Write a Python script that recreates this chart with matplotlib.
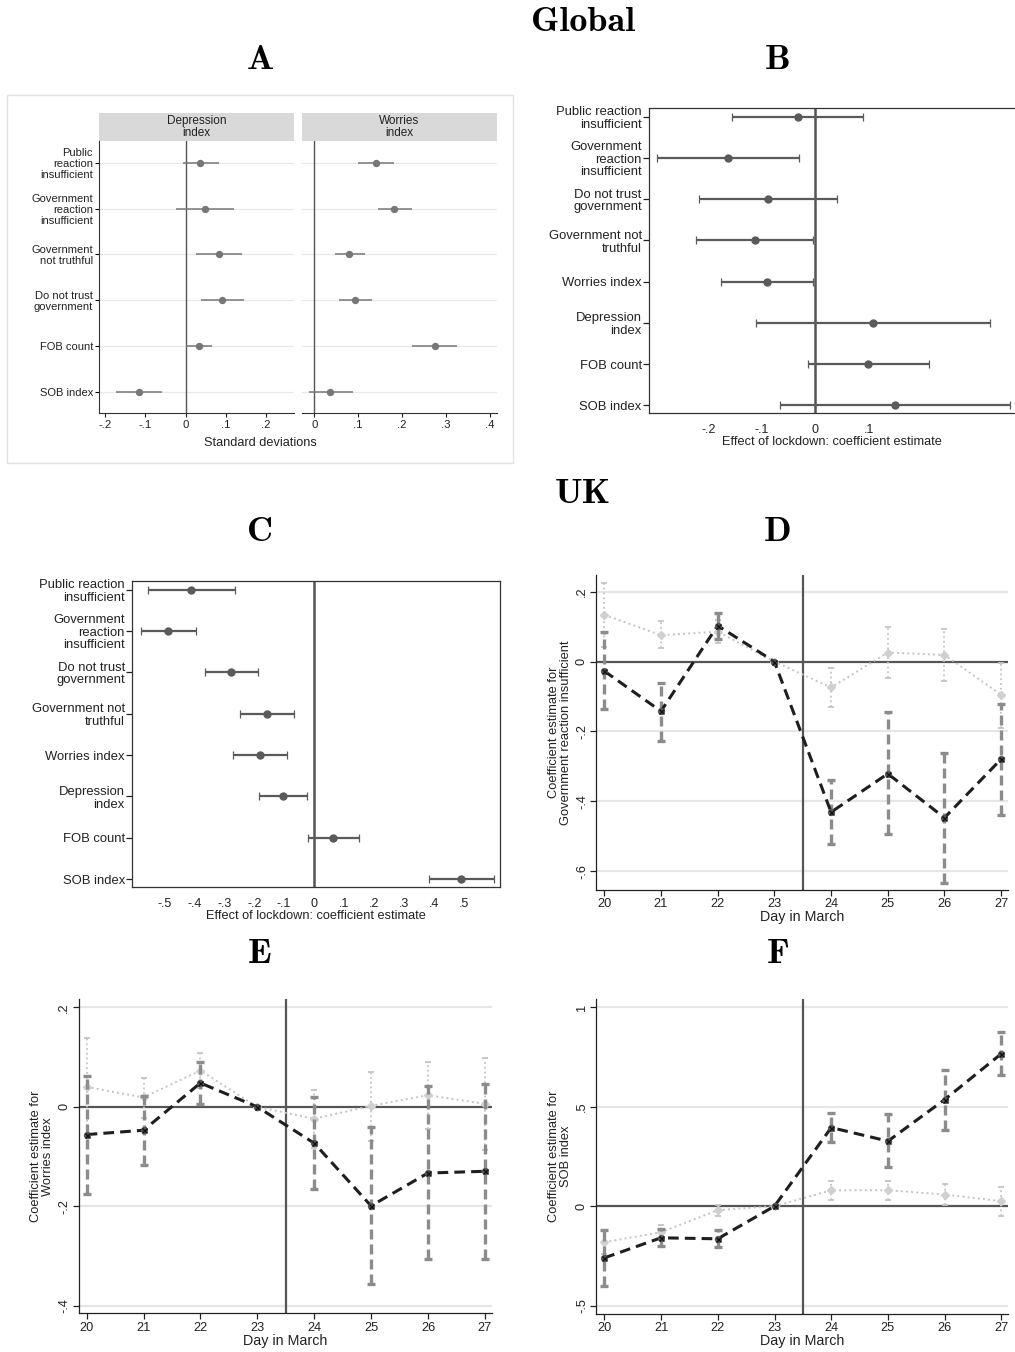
import matplotlib
matplotlib.use("Agg")
import matplotlib.pyplot as plt
from matplotlib.patches import Rectangle
from matplotlib.ticker import FuncFormatter
import numpy as np

plt.rcParams['font.family'] = ['Liberation Sans', 'DejaVu Sans']

## DATA ##

# panel A: global, standardised effects
a_labels = ["Public\nreaction\ninsufficient", "Government\nreaction\ninsufficient",
            "Government\nnot truthful", "Do not trust\ngovernment", "FOB count", "SOB index"]
a_dep = [0.036, 0.048, 0.0825, 0.091, 0.034, -0.116]
a_dep_lo = [-0.0075, -0.025, 0.025, 0.038, 0.0, -0.1725]
a_dep_hi = [0.0825, 0.12, 0.14, 0.145, 0.067, -0.0575]
a_wor = [0.141, 0.183, 0.080, 0.0935, 0.2745, 0.037]
a_wor_lo = [0.0996, 0.145, 0.047, 0.056, 0.2236, -0.012]
a_wor_hi = [0.181, 0.223, 0.116, 0.131, 0.3255, 0.0875]

# panels B and C: effect of lockdown
bc_labels = ["Public reaction\ninsufficient", "Government\nreaction\ninsufficient",
             "Do not trust\ngovernment", "Government not\ntruthful", "Worries index",
             "Depression\nindex", "FOB count", "SOB index"]
b_est = [-0.033, -0.164, -0.089, -0.114, -0.090, 0.108, 0.099, 0.150]
b_lo = [-0.156, -0.2975, -0.219, -0.223, -0.176, -0.111, -0.014, -0.066]
b_hi = [0.090, -0.031, 0.041, -0.004, -0.004, 0.3275, 0.2125, 0.365]

c_est = [-0.410, -0.488, -0.276, -0.157, -0.180, -0.105, 0.0646, 0.492]
c_lo = [-0.5546, -0.579, -0.365, -0.248, -0.271, -0.185, -0.021, 0.384]
c_hi = [-0.263, -0.396, -0.186, -0.066, -0.090, -0.0245, 0.151, 0.600]

# panels D, E, F: event study by day in March (23 = reference day)
days = [20, 21, 22, 23, 24, 25, 26, 27]

d_dark = [-0.027, -0.142, 0.103, 0.0, -0.431, -0.321, -0.447, -0.279]
d_dark_hi = [0.086, -0.062, 0.139, 0.0, -0.340, -0.1435, -0.261, -0.1215]
d_dark_lo = [-0.137, -0.226, 0.065, 0.0, -0.522, -0.495, -0.633, -0.439]
d_light = [0.134, 0.0756, 0.086, 0.0, -0.074, 0.026, 0.019, -0.095]
d_light_hi = [0.225, 0.115, 0.12, 0.0, -0.019, 0.098, 0.094, -0.003]
d_light_lo = [0.043, 0.038, 0.053, 0.0, -0.129, -0.046, -0.055, -0.189]

e_dark = [-0.0557, -0.047, 0.048, 0.0, -0.073, -0.199, -0.133, -0.1295]
e_dark_hi = [0.063, 0.0228, 0.0906, 0.0, 0.020, -0.040, 0.0416, 0.045]
e_dark_lo = [-0.1745, -0.116, 0.0067, 0.0, -0.166, -0.357, -0.306, -0.305]
e_light = [0.040, 0.019, 0.073, 0.0, -0.024, 0.002, 0.0235, 0.006]
e_light_hi = [0.139, 0.059, 0.109, 0.0, 0.0336, 0.070, 0.0906, 0.0987]
e_light_lo = [-0.058, -0.022, 0.0376, 0.0, -0.082, -0.068, -0.045, -0.087]

f_dark = [-0.260, -0.159, -0.164, 0.0, 0.395, 0.327, 0.536, 0.767]
f_dark_hi = [-0.121, -0.117, -0.121, 0.0, 0.466, 0.461, 0.682, 0.873]
f_dark_lo = [-0.399, -0.201, -0.206, 0.0, 0.322, 0.196, 0.384, 0.658]
f_light = [-0.181, -0.131, -0.020, 0.0, 0.080, 0.080, 0.0586, 0.025]
f_light_hi = [-0.125, -0.097, 0.008, 0.0, 0.126, 0.129, 0.109, 0.097]
f_light_lo = [-0.240, -0.164, -0.050, 0.0, 0.0335, 0.0335, 0.008, -0.050]


def stata_fmt(v, pos=None):
    "stata style tick labels: .2 instead of 0.2"
    if abs(v) < 1e-9:
        return "0"
    s = "%g" % round(v, 6)
    return s.replace("0.", ".", 1)


fig = plt.figure(figsize=(10.15, 13.52), dpi=100)

# headings
head_font = dict(family=['cmb10', 'DejaVu Serif'], fontsize=26, ha='center', va='center')
fig.text(0.5744, 0.9837, "Global", **head_font)
fig.text(0.5744, 0.6339, "UK", **head_font)
for lab, x, y in [("A", 0.2562, 0.9556), ("B", 0.7665, 0.9556),
                  ("C", 0.2562, 0.6065), ("D", 0.7665, 0.6065),
                  ("E", 0.2562, 0.2937), ("F", 0.7665, 0.2937)]:
    fig.text(x, y, lab, **head_font)

## PANEL A ##
fig.patches.append(Rectangle((0.0069, 0.6575), 0.4985, 0.2722, transform=fig.transFigure,
                             facecolor='none', edgecolor='#e2e2e2', lw=1))
axA1 = fig.add_axes([0.0972, 0.6945, 0.1924, 0.2012])
axA2 = fig.add_axes([0.2975, 0.6945, 0.1921, 0.2012])
ypos = np.arange(1, len(a_labels) + 1)
for ax, est, lo, hi, xlim, xt, title in [
        (axA1, a_dep, a_dep_lo, a_dep_hi, (-0.2165, 0.27), [-0.2, -0.1, 0, 0.1, 0.2], "Depression\nindex"),
        (axA2, a_wor, a_wor_lo, a_wor_hi, (-0.028, 0.4167), [0, 0.1, 0.2, 0.3, 0.4], "Worries\nindex")]:
    for y in ypos:
        ax.axhline(y, color='#e8e8e8', lw=0.9, zorder=0)
    ax.axvline(0, color='#555555', lw=1.0, zorder=1)
    ax.hlines(ypos, lo, hi, color='#777777', lw=1.1, zorder=2)
    ax.plot(est, ypos, 'o', color='#777777', markersize=4.3, zorder=3)
    ax.set_xlim(*xlim)
    ax.set_ylim(6.47, 0.52)
    ax.set_xticks(xt)
    ax.xaxis.set_major_formatter(FuncFormatter(stata_fmt))
    ax.tick_params(axis='x', labelsize=8.2, length=3, width=0.8, colors='#222222', pad=2)
    for s in ['top', 'right']:
        ax.spines[s].set_visible(False)
    ax.spines['bottom'].set_color('#333333')
    ax.add_patch(Rectangle((0, 1.0), 1, 0.103, transform=ax.transAxes, clip_on=False,
                           facecolor='#d9d9d9', edgecolor='none'))
    ax.text(0.5, 1.0515, title, transform=ax.transAxes, ha='center', va='center',
            fontsize=8.5, linespacing=0.95, color='#222222')

axA1.set_yticks(ypos)
axA1.set_yticklabels(a_labels, fontsize=8.0, linespacing=1.12, color='#222222')
axA1.tick_params(axis='y', length=3, width=0.8, pad=1)
axA1.spines['left'].set_color('#333333')
axA2.spines['left'].set_visible(False)
axA2.set_yticks([])
fig.text(0.2562, 1 - 443 / 1352, "Standard deviations", ha='center', va='center', fontsize=9.2,
         color='#222222')

## PANELS B and C ##
def coefplot(ax, est, lo, hi, xlim, xt, box):
    ypos = np.arange(1, len(est) + 1)
    est = np.array(est)
    err = [est - np.array(lo), np.array(hi) - est]
    ax.axvline(0, color='#555555', lw=1.8, zorder=1)
    ax.errorbar(est, ypos, xerr=err, fmt='o', color='#5a5a5a', ecolor='#5a5a5a',
                elinewidth=1.6, capsize=3, capthick=0.9, markersize=5, zorder=3)
    ax.set_xlim(*xlim)
    ax.set_ylim(len(est) + 0.18, 0.8)
    ax.set_yticks(ypos)
    ax.set_yticklabels(bc_labels, fontsize=9.4, linespacing=1.08, color='#222222')
    ax.set_xticks(xt)
    ax.xaxis.set_major_formatter(FuncFormatter(stata_fmt))
    ax.tick_params(axis='x', labelsize=9.0, length=0, pad=8, colors='#222222')
    ax.tick_params(axis='y', length=4, width=0.9, pad=1, colors='#222222')
    for s in ax.spines.values():
        s.set_color('#333333')
        s.set_linewidth(0.9)
    if not box:
        ax.spines['right'].set_visible(False)
    ax.set_xlabel("Effect of lockdown: coefficient estimate", fontsize=9.2, labelpad=0,
                  color='#222222')

axB = fig.add_axes([0.6391, 0.6947, 0.3609, 0.2251])
coefplot(axB, b_est, b_lo, b_hi, (-0.3126, 0.3747), [-0.2, -0.1, 0, 0.1], box=False)

axC = fig.add_axes([0.1298, 0.3442, 0.3629, 0.2259])
coefplot(axC, c_est, c_lo, c_hi, (-0.609, 0.621),
         [-0.5, -0.4, -0.3, -0.2, -0.1, 0, 0.1, 0.2, 0.3, 0.4, 0.5], box=True)

## PANELS D, E, F ##
def eventplot(ax, dark, dlo, dhi, light, llo, lhi, ylim, yt, ylabel):
    x = np.array(days)
    for y in yt:
        if abs(y) > 1e-9:
            ax.axhline(y, color='#e6e6e6', lw=1.6, zorder=0)
    ax.axhline(0, color='#555555', lw=1.6, zorder=1)
    ax.axvline(23.5, color='#555555', lw=1.6, zorder=1)
    mask = x != 23
    # light series (dotted)
    ax.vlines(x[mask], np.array(llo)[mask], np.array(lhi)[mask], colors='#c4c4c4',
              linestyles=':', lw=1.3, zorder=2)
    ax.plot(x[mask], np.array(llo)[mask], '_', color='#c4c4c4', markersize=5, mew=1.3, zorder=2)
    ax.plot(x[mask], np.array(lhi)[mask], '_', color='#c4c4c4', markersize=5, mew=1.3, zorder=2)
    ax.plot(x, light, ':', color='#c4c4c4', lw=1.4, zorder=2)
    ax.plot(x, light, 'D', color='#d0d0d0', markersize=4.5, zorder=3)
    # dark series (dashed)
    ax.vlines(x[mask], np.array(dlo)[mask], np.array(dhi)[mask], colors='#8c8c8c',
              linestyles=(0, (3, 1.5)), lw=2.4, zorder=4)
    ax.plot(x[mask], np.array(dlo)[mask], '_', color='#8c8c8c', markersize=6, mew=2.4, zorder=4)
    ax.plot(x[mask], np.array(dhi)[mask], '_', color='#8c8c8c', markersize=6, mew=2.4, zorder=4)
    ax.plot(x, dark, '--', color='#1e1e1e', lw=2.2, dashes=(3.5, 2), zorder=5)
    ax.plot(x, dark, 'o', color='#555555', markersize=4.2, zorder=6)
    ax.plot(x, dark, 'x', color='#111111', markersize=3.6, mew=1.0, zorder=7)
    ax.set_xlim(19.86, 27.12)
    ax.set_ylim(*ylim)
    ax.set_xticks(days)
    ax.set_yticks(yt)
    ax.yaxis.set_major_formatter(FuncFormatter(stata_fmt))
    ax.tick_params(axis='x', labelsize=9.2, length=4, width=0.9, pad=2, colors='#222222')
    ax.tick_params(axis='y', labelsize=9.2, length=4, width=0.9, pad=2, colors='#222222')
    for lab in ax.get_yticklabels():
        lab.set_rotation(90)
        lab.set_va('center')
    for s in ['top', 'right']:
        ax.spines[s].set_visible(False)
    for s in ['left', 'bottom']:
        ax.spines[s].set_color('#222222')
        ax.spines[s].set_linewidth(0.9)
    ax.set_xlabel("Day in March", fontsize=10.3, labelpad=0, color='#222222')
    ax.set_ylabel(ylabel, fontsize=9.3, labelpad=3, linespacing=1.0, color='#222222')

axD = fig.add_axes([0.5875, 0.3417, 0.4056, 0.233])
eventplot(axD, d_dark, d_dark_lo, d_dark_hi, d_light, d_light_lo, d_light_hi,
          (-0.654, 0.248), [-0.6, -0.4, -0.2, 0, 0.2],
          "Coefficient estimate for\nGovernment reaction insufficient")

axE = fig.add_axes([0.0775, 0.0286, 0.4069, 0.2322])
eventplot(axE, e_dark, e_dark_lo, e_dark_hi, e_light, e_light_lo, e_light_hi,
          (-0.415, 0.216), [-0.4, -0.2, 0, 0.2],
          "Coefficient estimate for\nWorries index")

axF = fig.add_axes([0.5875, 0.0281, 0.4059, 0.2328])
eventplot(axF, f_dark, f_dark_lo, f_dark_hi, f_light, f_light_lo, f_light_hi,
          (-0.542, 1.04), [-0.5, 0, 0.5, 1],
          "Coefficient estimate for\nSOB index")

fig.savefig("out.png", dpi=100, facecolor='white')
